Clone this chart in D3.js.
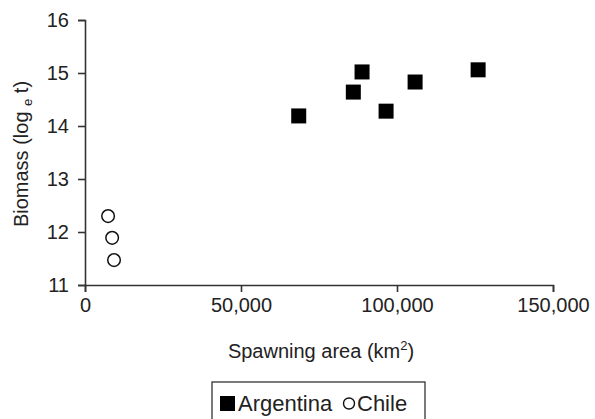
<!DOCTYPE html>
<html>
<head>
<meta charset="utf-8">
<script src="https://cdn.jsdelivr.net/npm/d3@7"></script>
<style>
  body { margin: 0; background: #fff; }
  text { font-family: "Liberation Sans", Arial, sans-serif; fill: #222; }
</style>
</head>
<body>
<svg id="chart" width="595" height="419"></svg>
<script>
// Argentina (filled squares)
var argArea = [68500, 86000, 88800, 96500, 105800, 126000];
var argBiomass = [14.19, 14.64, 15.02, 14.28, 14.83, 15.06];
// Chile (open circles)
var chileArea = [7400, 8700, 9300];
var chileBiomass = [12.30, 11.89, 11.47];

var xTicks = [0, 50000, 100000, 150000];
var yTicks = [11, 12, 13, 14, 15, 16];

var svg = d3.select("#chart");
var axisColor = "#333";

var x = d3.scaleLinear().domain([0, 150000]).range([85, 553]);
var y = d3.scaleLinear().domain([11, 16]).range([285, 20]);

var argentina = argArea.map(function (a, i) { return { area: a, biomass: argBiomass[i] }; });
var chile = chileArea.map(function (a, i) { return { area: a, biomass: chileBiomass[i] }; });

// axes
var xAxis = svg.append("g")
    .attr("transform", "translate(0," + y(11) + ")")
    .call(d3.axisBottom(x).tickValues(xTicks).tickSize(7).tickPadding(6)
        .tickFormat(d3.format(",")));

var yAxis = svg.append("g")
    .attr("transform", "translate(" + x(0) + ",0)")
    .call(d3.axisLeft(y).tickValues(yTicks).tickSize(7).tickPadding(9)
        .tickFormat(d3.format("d")));

[xAxis, yAxis].forEach(function (g) {
    g.select(".domain").attr("stroke", axisColor).attr("stroke-width", 1.6);
    g.selectAll(".tick line").attr("stroke", axisColor).attr("stroke-width", 1.6);
    g.selectAll(".tick text").style("font-size", "20px").attr("fill", "#222");
});

// axis labels
var xLabel = svg.append("text")
    .attr("x", 321)
    .attr("y", 358)
    .attr("text-anchor", "middle")
    .style("font-size", "20px")
    .text("Spawning area (km");
xLabel.append("tspan").attr("dy", -8).style("font-size", "13px").text("2");
xLabel.append("tspan").attr("dy", 8).text(")");

var yLabel = svg.append("text")
    .attr("transform", "translate(28,154) rotate(-90)")
    .attr("text-anchor", "middle")
    .style("font-size", "20px")
    .text("Biomass (log ");
yLabel.append("tspan").attr("dy", 4).style("font-size", "13px").text("e");
yLabel.append("tspan").attr("dy", -4).text(" t)");

// points
var sq = 15;
svg.selectAll(".arg")
    .data(argentina)
    .enter().append("rect")
    .attr("class", "arg")
    .attr("x", function (d) { return x(d.area) - sq / 2; })
    .attr("y", function (d) { return y(d.biomass) - sq / 2; })
    .attr("width", sq)
    .attr("height", sq)
    .attr("fill", "#000");

svg.selectAll(".chile")
    .data(chile)
    .enter().append("circle")
    .attr("class", "chile")
    .attr("cx", function (d) { return x(d.area); })
    .attr("cy", function (d) { return y(d.biomass); })
    .attr("r", 6.3)
    .attr("fill", "#fff")
    .attr("stroke", "#111")
    .attr("stroke-width", 1.5);

// legend
var legend = svg.append("g");
legend.append("rect")
    .attr("x", 212).attr("y", 382)
    .attr("width", 213).attr("height", 50)
    .attr("fill", "#fff")
    .attr("stroke", axisColor)
    .attr("stroke-width", 1.3);
legend.append("rect")
    .attr("x", 220).attr("y", 396)
    .attr("width", 15).attr("height", 15)
    .attr("fill", "#000");
legend.append("text")
    .attr("x", 238).attr("y", 411)
    .style("font-size", "22px")
    .text("Argentina");
legend.append("circle")
    .attr("cx", 349).attr("cy", 403.5)
    .attr("r", 5.5)
    .attr("fill", "#fff")
    .attr("stroke", "#111")
    .attr("stroke-width", 1.4);
legend.append("text")
    .attr("x", 357).attr("y", 411)
    .style("font-size", "22px")
    .text("Chile");
</script>
</body>
</html>
